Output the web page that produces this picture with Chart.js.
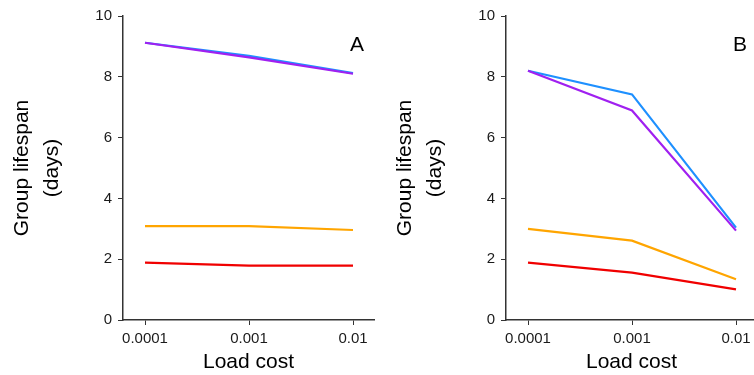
<!DOCTYPE html>
<html>
<head>
<meta charset="utf-8">
<script src="https://cdn.jsdelivr.net/npm/chart.js@4/dist/chart.umd.min.js"></script>
<style>
  html, body { margin: 0; padding: 0; background: #fff; }
  #wrap { position: relative; width: 754px; height: 375px; overflow: hidden; }
  .panel { position: absolute; top: 0; width: 400px; height: 375px; }
  #panelA { left: 0; }
  #panelB { left: 383px; }
</style>
</head>
<body>
<div id="wrap">
  <div class="panel" id="panelA"><canvas id="chartA" width="400" height="375"></canvas></div>
  <div class="panel" id="panelB"><canvas id="chartB" width="400" height="375"></canvas></div>
</div>
<script>
// Load cost levels (x) and their tick labels
const loadCosts = [0.0001, 0.001, 0.01];
const costLabels = ['0.0001', '0.001', '0.01'];
const yTicks = [0, 2, 4, 6, 8, 10];

// Panel A: group lifespan (days)
const aBlue   = [9.12, 8.69, 8.12];
const aPurple = [9.12, 8.64, 8.10];
const aOrange = [3.09, 3.09, 2.96];
const aRed    = [1.89, 1.79, 1.79];

// Panel B: group lifespan (days)
const bBlue   = [8.20, 7.42, 3.04];
const bPurple = [8.20, 6.89, 2.94];
const bOrange = [3.00, 2.61, 1.34];
const bRed    = [1.89, 1.56, 1.01];

const COLORS = { blue: '#1E90FF', purple: '#A020F0', orange: '#FFA500', red: '#F00000' };
const AXIS = '#333333';
const TEXT = '#1a1a1a';
const FONT = '"Liberation Sans", Arial, sans-serif';

// Lower `order` is drawn on top
function series(values, color, order) {
  return {
    data: loadCosts.map((c, i) => ({ x: c, y: values[i] })),
    borderColor: color,
    borderWidth: 2.2,
    pointRadius: 0,
    tension: 0,
    fill: false,
    order
  };
}

// Panel letter drawn in the top-right corner of the plot
const panelLetter = {
  id: 'panelLetter',
  afterDatasetsDraw(chart, args, opts) {
    const { ctx, chartArea } = chart;
    ctx.save();
    ctx.font = '21px ' + FONT;
    ctx.fillStyle = '#000';
    ctx.textAlign = 'center';
    ctx.textBaseline = 'middle';
    ctx.fillText(opts.text, chartArea.left + opts.dx, chartArea.top + opts.dy);
    ctx.restore();
  }
};

function makeChart(id, sets, letter) {
  const lo = Math.pow(10, -4 - 22 / 104);
  const hi = Math.pow(10, -2 + 21 / 104);
  return new Chart(document.getElementById(id), {
    type: 'line',
    data: {
      datasets: [
        series(sets.blue, COLORS.blue, 2),
        series(sets.purple, COLORS.purple, 1),
        series(sets.orange, COLORS.orange, 3),
        series(sets.red, COLORS.red, 4)
      ]
    },
    options: {
      responsive: false,
      animation: false,
      events: [],
      layout: { padding: { left: 0, right: 26, top: 16, bottom: 0 } },
      plugins: {
        legend: { display: false },
        tooltip: { enabled: false },
        panelLetter: letter
      },
      scales: {
        x: {
          type: 'logarithmic',
          min: lo,
          max: hi,
          afterBuildTicks(scale) {
            scale.ticks = loadCosts.map(v => ({ value: v }));
          },
          afterFit(scale) { scale.height = 55; },
          border: { display: true, color: AXIS, width: 1.5 },
          grid: { display: true, drawOnChartArea: false, drawTicks: true, tickLength: 5, color: AXIS, lineWidth: 1 },
          ticks: {
            autoSkip: false,
            maxRotation: 0,
            padding: 5,
            color: TEXT,
            font: { family: FONT, size: 15 },
            callback(value) {
              const i = loadCosts.findIndex(c => Math.abs(Math.log10(c) - Math.log10(value)) < 1e-6);
              return i >= 0 ? costLabels[i] : '';
            }
          },
          title: {
            display: true,
            text: 'Load cost',
            color: '#000',
            padding: { top: 0, bottom: 0 },
            font: { family: FONT, size: 21 }
          }
        },
        y: {
          min: 0,
          max: 10,
          afterBuildTicks(scale) {
            scale.ticks = yTicks.map(v => ({ value: v }));
          },
          afterFit(scale) { scale.width = 123; },
          border: { display: true, color: AXIS, width: 1.5 },
          grid: { display: true, drawOnChartArea: false, drawTicks: true, tickLength: 5, color: AXIS, lineWidth: 1 },
          ticks: {
            padding: 6,
            color: TEXT,
            font: { family: FONT, size: 15 }
          },
          title: {
            display: true,
            text: ['Group lifespan', '(days)'],
            color: '#000',
            padding: { top: 7, bottom: 0 },
            font: { family: FONT, size: 21, lineHeight: 30 / 21 }
          }
        }
      }
    },
    plugins: [panelLetter]
  });
}

makeChart('chartA', { blue: aBlue, purple: aPurple, orange: aOrange, red: aRed }, { text: 'A', dx: 234, dy: 29 });
makeChart('chartB', { blue: bBlue, purple: bPurple, orange: bOrange, red: bRed }, { text: 'B', dx: 234, dy: 29 });
</script>
</body>
</html>
